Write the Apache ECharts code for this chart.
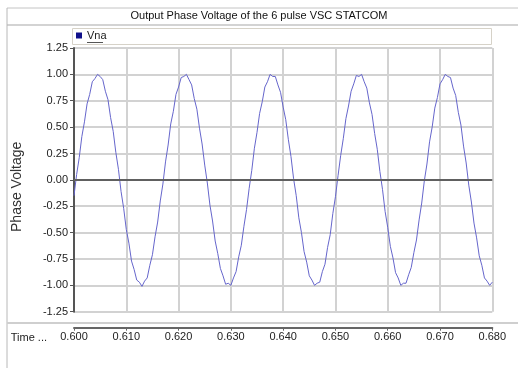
<!DOCTYPE html>
<html>
<head>
<meta charset="utf-8">
<script src="https://cdn.jsdelivr.net/npm/echarts@6/dist/echarts.min.js"></script>
<style>
    html, body { margin: 0; padding: 0; background: #fff; }
    #chart { width: 518px; height: 368px; }
</style>
</head>
<body>
<div id="chart"></div>
<script>

// sample times: 0.600 .. 0.680 s, one sample every 0.5 ms
var startTime = 0.600;
var timeStep = 0.0005;

// Vna (per unit)
var vna = [
    -0.15, 0.05, 0.21, 0.41, 0.55, 0.72, 0.81, 0.93, 0.96, 1.00,
    0.98, 0.95, 0.84, 0.76, 0.59, 0.46, 0.26, 0.10, -0.11, -0.27,
    -0.47, -0.60, -0.77, -0.85, -0.95, -0.97, -1.01, -0.96, -0.93, -0.81,
    -0.71, -0.54, -0.40, -0.20, -0.04, 0.17, 0.33, 0.53, 0.65, 0.81,
    0.88, 0.97, 0.98, 1.00, 0.95, 0.90, 0.77, 0.67, 0.49, 0.34,
    0.14, -0.03, -0.24, -0.39, -0.58, -0.70, -0.84, -0.91, -0.99, -0.98,
    -1.00, -0.93, -0.87, -0.73, -0.62, -0.44, -0.28, -0.08, 0.09, 0.30,
    0.45, 0.63, 0.74, 0.88, 0.93, 1.00, 0.98, 0.98, 0.90, 0.83,
    0.69, 0.57, 0.38, 0.22, 0.01, -0.15, -0.36, -0.50, -0.68, -0.78,
    -0.91, -0.95, -1.00, -0.98, -0.97, -0.87, -0.80, -0.64, -0.52, -0.32,
    -0.16, 0.04, 0.23, 0.39, 0.58, 0.70, 0.84, 0.91, 0.99, 0.98,
    1.00, 0.93, 0.87, 0.73, 0.62, 0.44, 0.29, 0.08, -0.09, -0.30,
    -0.45, -0.63, -0.74, -0.88, -0.93, -1.00, -0.98, -0.98, -0.90, -0.83,
    -0.69, -0.57, -0.38, -0.22, -0.01, 0.15, 0.36, 0.50, 0.68, 0.78,
    0.91, 0.95, 1.00, 0.98, 0.97, 0.87, 0.80, 0.64, 0.52, 0.32,
    0.16, -0.05, -0.21, -0.41, -0.55, -0.72, -0.81, -0.93, -0.96, -1.00,
    -0.97
];

var yTicks = { min: -1.25, max: 1.25, step: 0.25 };
var xTicks = { min: 0.600, max: 0.680, step: 0.010 };

var labelFont = "'Liberation Sans', Arial, sans-serif";

var points = [];
for (var i = 0; i < vna.length; i++) {
    points.push([+(startTime + i * timeStep).toFixed(4), vna[i]]);
}

var chart = echarts.init(document.getElementById('chart'), null, { renderer: 'canvas' });

var option = {
    animation: false,
    backgroundColor: '#fff',
    title: {
        text: 'Output Phase Voltage of the 6 pulse VSC STATCOM',
        left: 'center',
        top: 10,
        padding: 0,
        textStyle: { fontFamily: labelFont, fontSize: 11, fontWeight: 'normal', color: '#111' }
    },
    legend: {
        left: 76,
        top: 30,
        padding: 0,
        icon: 'rect',
        itemWidth: 6,
        itemHeight: 6,
        data: [{ name: 'Vna', itemStyle: { color: '#10108a' } }],
        textStyle: { fontFamily: labelFont, fontSize: 11, color: '#222' }
    },
    graphic: [
        // frame lines of the panels
        { type: 'line', shape: { x1: 7, y1: 8, x2: 518, y2: 8 }, style: { stroke: '#c4c4c4', lineWidth: 1 } },
        { type: 'line', shape: { x1: 7, y1: 25, x2: 518, y2: 25 }, style: { stroke: '#c4c4c4', lineWidth: 1.5 } },
        { type: 'line', shape: { x1: 7, y1: 8, x2: 7, y2: 368 }, style: { stroke: '#b8b8b8', lineWidth: 1 } },
        { type: 'line', shape: { x1: 7, y1: 323, x2: 518, y2: 323 }, style: { stroke: '#cfcfcf', lineWidth: 2 } },
        { type: 'rect', shape: { x: 72.5, y: 28.5, width: 419, height: 16 }, style: { fill: 'none', stroke: '#d6d2c8', lineWidth: 1 } },
        // underline of the legend label
        { type: 'line', shape: { x1: 87, y1: 42.5, x2: 103, y2: 42.5 }, style: { stroke: '#555', lineWidth: 1 } }
    ],
    grid: {
        left: 74,
        right: 25.7,
        top: 48,
        bottom: 56.3,
        outerBoundsMode: 'none',
        containLabel: false,
        show: false
    },
    xAxis: {
        type: 'value',
        min: xTicks.min,
        max: xTicks.max,
        interval: xTicks.step,
        offset: 16,
        name: 'Time ...',
        nameLocation: 'start',
        nameGap: 27,
        nameTextStyle: { fontFamily: labelFont, fontSize: 11, color: '#222', verticalAlign: 'top', padding: [5, 0, 0, 0] },
        axisLine: { show: true, onZero: false, lineStyle: { color: '#666', width: 2 } },
        axisTick: { show: true, length: 3, lineStyle: { color: '#666' } },
        axisLabel: {
            margin: 4,
            fontFamily: labelFont,
            fontSize: 11,
            color: '#222',
            formatter: function(v) { return v.toFixed(3); }
        },
        splitLine: { show: true, lineStyle: { color: '#d2d2d2', width: 2 } }
    },
    yAxis: {
        type: 'value',
        min: yTicks.min,
        max: yTicks.max,
        interval: yTicks.step,
        name: 'Phase Voltage',
        nameLocation: 'middle',
        nameRotate: 90,
        nameGap: 50,
        nameTextStyle: { fontFamily: labelFont, fontSize: 14, color: '#333', padding: [0, 14, 0, 0] },
        axisLine: { show: true, lineStyle: { color: '#555', width: 2 } },
        axisTick: { show: true, length: 4, lineStyle: { color: '#555' } },
        axisLabel: {
            margin: 6,
            fontFamily: labelFont,
            fontSize: 11,
            color: '#222',
            formatter: function(v) { return v.toFixed(2); }
        },
        splitLine: { show: true, lineStyle: { color: '#d2d2d2', width: 2 } }
    },
    series: [{
        name: 'Vna',
        type: 'line',
        data: points,
        showSymbol: false,
        smooth: false,
        lineStyle: { color: '#6666cc', width: 1 },
        itemStyle: { color: '#6666cc' },
        markLine: {
            silent: true,
            symbol: 'none',
            label: { show: false },
            lineStyle: { color: '#606060', width: 2, type: 'solid' },
            data: [{ yAxis: 0 }]
        }
    }]
};

chart.setOption(option);
</script>
</body>
</html>
